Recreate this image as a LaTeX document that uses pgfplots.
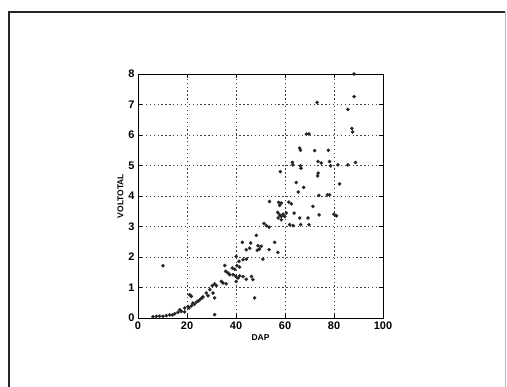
\documentclass[border=0pt]{standalone}
\usepackage{pgfplots}
\pgfplotsset{compat=1.18}
\usepackage{fontspec}
\setmainfont{Liberation Sans}
\begin{document}
\begin{tikzpicture}
\useasboundingbox (0,0) rectangle (507bp,387bp);
\draw[line width=1.3bp, black!85] (9bp,-5bp) -- (9bp,375bp) -- (505bp,375bp);
\draw[line width=0.4bp, black!25] (505bp,375bp) -- (505bp,-5bp);
\begin{axis}[
  at={(138bp,69bp)}, anchor=south west,
  width=245bp, height=244bp, scale only axis,
  xmin=0, xmax=100, ymin=0, ymax=8,
  xtick={0,20,...,100}, ytick={0,1,...,8},
  xticklabels={0,20,40,60,80,100},
  grid=major,
  major grid style={dash pattern=on 1.3bp off 2.6bp, black!75, line width=0.8bp},
  tick align=inside, tick pos=both,
  major tick length=4bp,
  axis line style={black, line width=0.8bp},
  tick style={black, line width=0.8bp},
  ticklabel style={font=\fontsize{11}{12}\selectfont\bfseries},
  /pgf/number format/assume math mode=true,
  xlabel={DAP}, ylabel={VOLTOTAL},
  label style={font=\fontsize{8.5}{9}\selectfont\bfseries},
  xlabel style={yshift=1bp},
  ylabel style={yshift=-2bp},
  clip=false,
]
\addplot[only marks, mark=*, mark size=1.6bp, black!85] coordinates {
(88.2,8.0) (73.1,7.07) (88.2,7.26) (85.7,6.84) (87.3,6.22) (87.6,6.1)
(68.7,6.03) (69.8,6.03) (66,5.57) (66.3,5.5) (77.7,5.5) (72.1,5.49)
(58.1,4.8) (63,5.1) (63.2,5.02) (66.3,4.99) (66.5,4.91) (73.5,5.13) (74.8,5.08)
(73.5,4.75) (73.3,4.66) (78.2,5.13) (78.6,4.99) (81.6,5.02) (85.7,5.02) (88.8,5.1)
(82.3,4.4) (64.6,4.44) (67.6,4.28) (65.4,4.13) (73.8,4.02) (77.3,4.04) (78.2,4.04)
(53.7,3.82) (57.4,3.79) (58.5,3.77) (57.8,3.69) (61.6,3.8) (62.6,3.74) (63.7,3.44)
(57,3.46) (57.8,3.38) (58.5,3.33) (57.2,3.28) (58.5,3.22) (59.2,3.4) (59.9,3.33) (60.5,3.44)
(71.4,3.66) (69.4,3.28) (66,3.28) (73.9,3.38) (80,3.4) (81,3.35)
(61.9,3.06) (63.3,3.03) (66.4,3.06) (69.8,3.06) (51.4,3.1) (52.4,3.03) (53.5,2.98)
(48.3,2.71) (46,2.46) (42.6,2.48) (44.2,2.24) (45.6,2.29) (49,2.37) (50.3,2.35) (49.6,2.26) (48.7,2.22)
(55.8,2.48) (53.5,2.24) (57.1,2.15) (51,1.93) (40.1,2.02) (41.2,1.86) (42.9,1.91) (44.2,1.93)
(35.4,1.72) (38.5,1.64) (39.5,1.6) (40.4,1.71) (41.5,1.67) (35.8,1.53) (36.7,1.48) (37.4,1.42)
(38.8,1.42) (39.9,1.37) (40.8,1.31) (41.5,1.38) (42.9,1.36) (44.2,1.27) (46.3,1.36) (46.9,1.26)
(40.1,1.2) (34,1.2) (34.7,1.15) (36,1.12) (31.3,1.12) (32,1.06) (30.3,1.06)
(29.3,0.93) (30.6,0.82) (31.3,0.66) (27.9,0.82) (28.6,0.73) (26.5,0.69)
(25.2,0.6) (23.8,0.52) (22.4,0.49) (21.1,0.76) (21.8,0.71)
(20.4,0.38) (20.8,0.33) (21.8,0.4) (19.1,0.33) (17,0.27) (17.7,0.22) (16.3,0.19) (15,0.14)
(12.9,0.1) (11.6,0.08) (10.2,0.06) (8.8,0.06) (7.5,0.05) (6.1,0.04)
(47.6,0.66) (31.3,0.11) (10.2,1.71) (23,0.45) (24.5,0.55) (26,0.65) (19,0.2) (14,0.1)
};
\end{axis}
\end{tikzpicture}
\end{document}
